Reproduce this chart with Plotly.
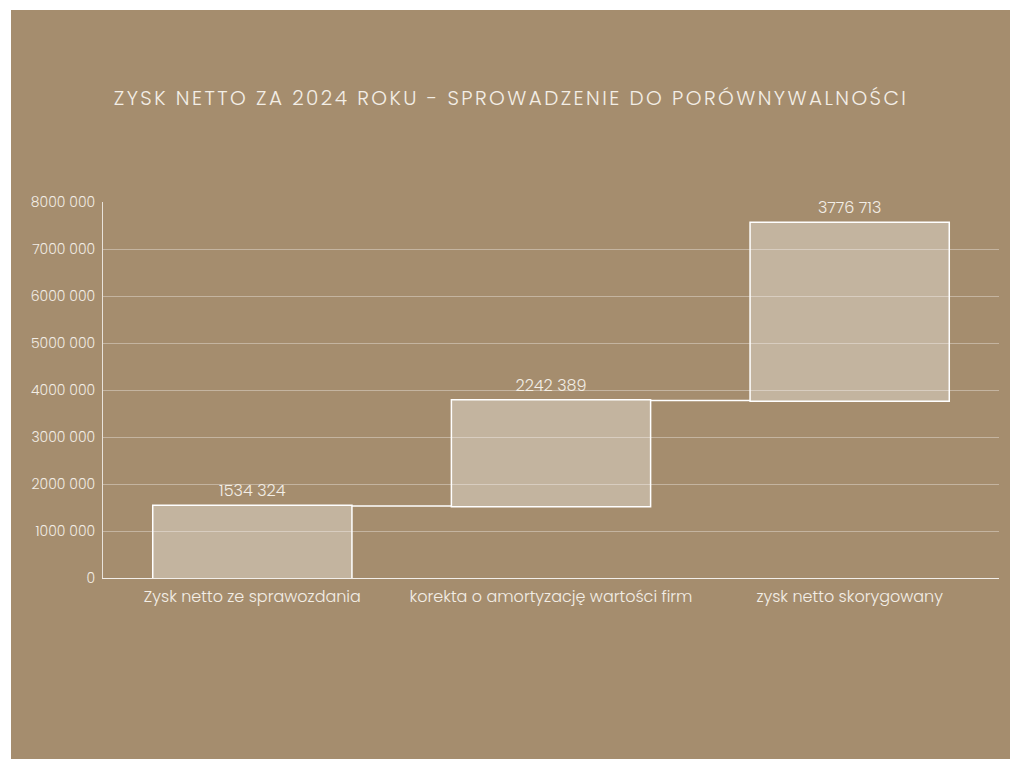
import plotly.graph_objects as go

categories = ["Zysk netto ze sprawozdania", "korekta o amortyzację wartości firm", "zysk netto skorygowany"]
values = [1534324, 2242389, 3776713]
value_labels = ["1534 324", "2242 389", "3776 713"]
tick_vals = [0, 1000000, 2000000, 3000000, 4000000, 5000000, 6000000, 7000000, 8000000]
tick_text = ["0", "1000 000", "2000 000", "3000 000", "4000 000", "5000 000", "6000 000", "7000 000", "8000 000"]
title_text = "ZYSK NETTO ZA 2024 ROKU - SPROWADZENIE DO PORÓWNYWALNOŚCI"

BG = "#A58D6E"
TXT = "#F3EEE6"
FONT = "Poppins, Lato, 'Open Sans', sans-serif"

fig = go.Figure(go.Waterfall(
    x=categories,
    y=values,
    measure=["relative"] * len(values),
    text=value_labels,
    textposition="outside",
    textfont=dict(color=TXT, size=16, family=FONT, weight=300),
    increasing=dict(marker=dict(color="rgba(255,255,255,0.34)", line=dict(color="#FFFFFF", width=1.5))),
    connector=dict(line=dict(color="#FFFFFF", width=1.5, dash="solid")),
    cliponaxis=False,
    showlegend=False,
))

fig.update_layout(
    width=1000,
    height=750,
    paper_bgcolor=BG,
    plot_bgcolor=BG,
    margin=dict(l=92, r=12, t=192, b=182),
    waterfallgap=0.333,
    title=dict(text=title_text, x=0.5, xanchor="center", y=1 - 88 / 750, yanchor="middle",
               font=dict(family=FONT, size=20, color=TXT, weight=300)),
    font=dict(family=FONT, color=TXT, weight=300),
    xaxis=dict(showgrid=False, showline=True, linecolor="rgba(255,255,255,0.85)", linewidth=1,
               tickfont=dict(size=16, color=TXT, weight=300), ticks="", ticklabelstandoff=4),
    yaxis=dict(range=[0, 8000000], tickvals=tick_vals, ticktext=tick_text,
               showgrid=True, gridcolor="rgba(255,255,255,0.35)", gridwidth=1,
               showline=True, linecolor="rgba(255,255,255,0.75)", linewidth=1,
               zeroline=False, tickfont=dict(size=14, color=TXT, weight=300), ticks="",
               ticklabelstandoff=4),
)

post = """
document.body.style.margin='10px 0 0 11px';
function _ls(){document.querySelectorAll('.gtitle').forEach(function(e){e.style.letterSpacing='2.4px';});}
_ls(); var _gd=document.getElementsByClassName('plotly-graph-div')[0]; if(_gd&&_gd.on){_gd.on('plotly_afterplot',_ls);}
"""
fig.write_html("out.html", post_script=post)
